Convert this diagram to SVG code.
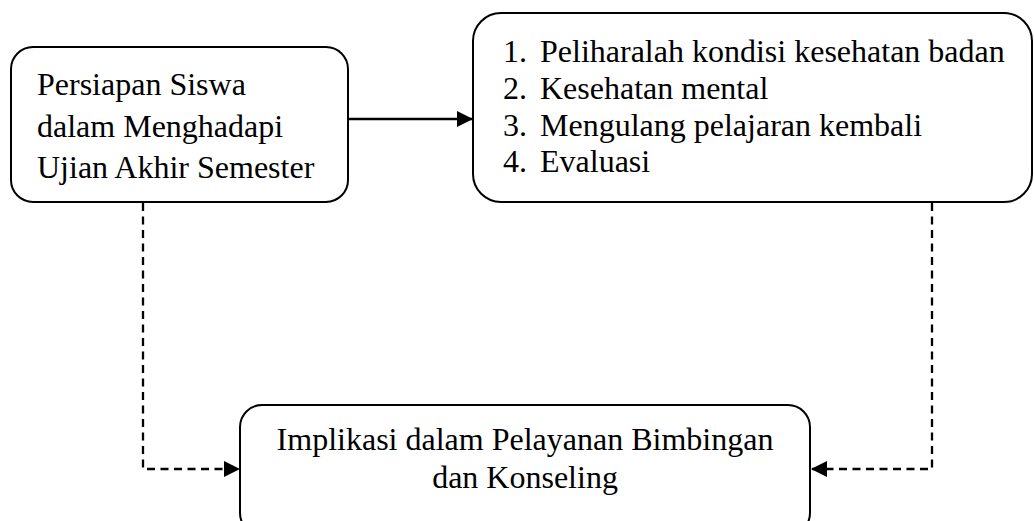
<svg xmlns="http://www.w3.org/2000/svg" width="1034" height="521" viewBox="0 0 1034 521">
<style>
.box{fill:#fff;stroke:#000;stroke-width:2}
.t{font-family:"Liberation Serif","Times New Roman",serif;font-size:32px;fill:#000}
.solid{fill:none;stroke:#000;stroke-width:2.5}
.dash{fill:none;stroke:#000;stroke-width:2.3;stroke-dasharray:8 5.5}
</style>
<defs>
<marker id="ah" markerUnits="userSpaceOnUse" markerWidth="16" markerHeight="16" refX="16" refY="8" orient="auto">
<path d="M0,0 L16,8 L0,16 Z" fill="#000"/>
</marker>
</defs>
<rect width="1034" height="521" fill="#fff"/>
<g id="connectors">
<line class="solid" x1="348" y1="119" x2="473" y2="119" marker-end="url(#ah)"/>
<path class="dash" d="M143,203 V469 H240" marker-end="url(#ah)"/>
<path class="dash" d="M932,203 V469 H811" marker-end="url(#ah)"/>
</g>
<g id="node-persiapan">
<rect class="box" x="11" y="47" width="337" height="155" rx="22"/>
<text class="t" x="37" y="95">Persiapan Siswa</text>
<text class="t" x="37" y="136.5">dalam Menghadapi</text>
<text class="t" x="37" y="178">Ujian Akhir Semester</text>
</g>
<g id="node-list">
<rect class="box" x="473" y="13" width="559" height="189" rx="28"/>
<text class="t" x="503" y="62">1.</text><text class="t" x="540" y="62">Peliharalah kondisi kesehatan badan</text>
<text class="t" x="503" y="99">2.</text><text class="t" x="540" y="99">Kesehatan mental</text>
<text class="t" x="503" y="135.5">3.</text><text class="t" x="540" y="135.5">Mengulang pelajaran kembali</text>
<text class="t" x="503" y="172">4.</text><text class="t" x="540" y="172">Evaluasi</text>
</g>
<g id="node-implikasi">
<rect class="box" x="240" y="405" width="570" height="130" rx="22"/>
<text class="t" x="525" y="450" text-anchor="middle">Implikasi dalam Pelayanan Bimbingan</text>
<text class="t" x="525" y="488" text-anchor="middle">dan Konseling</text>
</g>
</svg>
